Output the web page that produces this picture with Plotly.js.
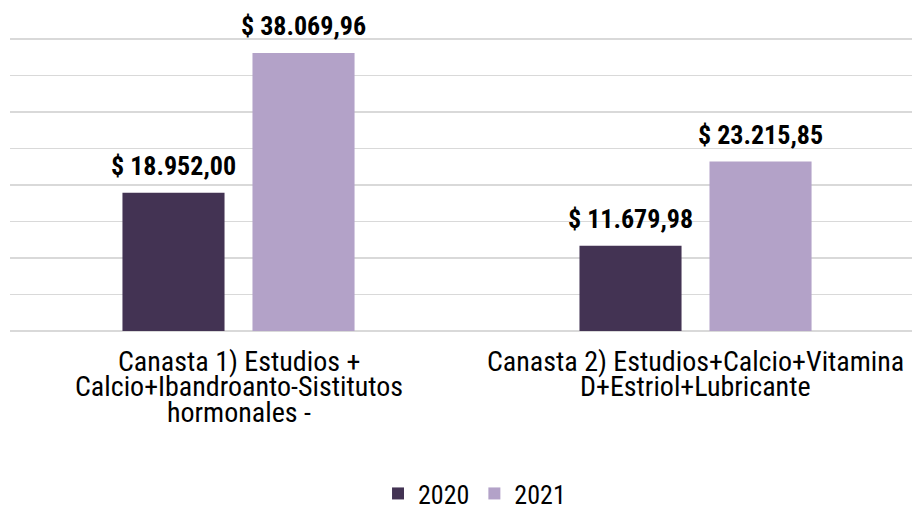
<!DOCTYPE html>
<html>
<head>
<meta charset="utf-8">
<script src="https://cdn.plot.ly/plotly-3.0.1.min.js"></script>
<style>
  html, body { margin: 0; padding: 0; background: #fff; }
  #chart { width: 912px; height: 513px; }
</style>
</head>
<body>
<div id="chart"></div>
<script>
var categories = [0, 1];
var tickLines = [
  ['Canasta 1) Estudios +', 'Calcio+Ibandroanto-Sistitutos', 'hormonales -'],
  ['Canasta 2) Estudios+Calcio+Vitamina', 'D+Estriol+Lubricante']
];
var seriesNames = ['2020', '2021'];
var values2020 = [18952.00, 11679.98];
var values2021 = [38069.96, 23215.85];
var colors = ['#433353', '#b3a2c8'];

var font = '"Roboto Condensed", Roboto, sans-serif';
var bargap = 0.431;

var data = [
  { type: 'bar', name: seriesNames[0], x: categories, y: values2020,
    marker: { color: colors[0] }, hoverinfo: 'skip' },
  { type: 'bar', name: seriesNames[1], x: categories, y: values2021,
    marker: { color: colors[1] }, hoverinfo: 'skip' }
];

function fmt(v) {
  var parts = v.toFixed(2).split('.');
  var intPart = parts[0].replace(/\B(?=(\d{3})+(?!\d))/g, '.');
  return '$ ' + intPart + ',' + parts[1];
}

var annotations = [];

// value labels above each bar (x = category + group offset in axis units)
var series = [values2020, values2021];
var slot = (1 - bargap) / 2;
for (var s = 0; s < series.length; s++) {
  for (var i = 0; i < categories.length; i++) {
    annotations.push({
      xref: 'x', yref: 'y',
      x: categories[i] + (s - 0.5) * slot,
      y: series[s][i],
      xanchor: 'center', yanchor: 'bottom',
      yshift: 10,
      text: fmt(series[s][i]),
      showarrow: false,
      font: { family: font, size: 26, color: '#000', weight: 'bold' }
    });
  }
}

// category labels, one annotation per line (tighter line spacing than plotly's ticks)
for (var i = 0; i < tickLines.length; i++) {
  for (var j = 0; j < tickLines[i].length; j++) {
    annotations.push({
      xref: 'x', yref: 'paper',
      x: categories[i], y: 0,
      yanchor: 'middle', xanchor: 'center',
      yshift: -30 - 25.5 * j,
      text: tickLines[i][j],
      showarrow: false,
      font: { family: font, size: 28, color: '#000' }
    });
  }
}

var layout = {
  width: 912,
  height: 513,
  margin: { l: 10, r: 0, t: 30, b: 182, autoexpand: false },
  paper_bgcolor: '#fff',
  plot_bgcolor: '#fff',
  barmode: 'group',
  bargap: bargap,
  bargroupgap: 0.215,
  showlegend: true,
  legend: {
    orientation: 'h',
    x: 0.515, xanchor: 'center',
    y: -0.54, yanchor: 'middle',
    font: { family: font, size: 26, color: '#000' }
  },
  xaxis: {
    type: 'linear',
    range: [-0.5, 1.4737],
    showticklabels: false,
    showgrid: false,
    zeroline: false,
    fixedrange: true
  },
  yaxis: {
    range: [0, 41233],
    tick0: 0,
    dtick: 5000,
    showticklabels: false,
    gridcolor: '#d9d9d9',
    gridwidth: 1.5,
    zeroline: true,
    zerolinecolor: '#d9d9d9',
    zerolinewidth: 1.5,
    fixedrange: true
  },
  annotations: annotations
};

Plotly.newPlot('chart', data, layout, { displayModeBar: false, staticPlot: true });
</script>
</body>
</html>
